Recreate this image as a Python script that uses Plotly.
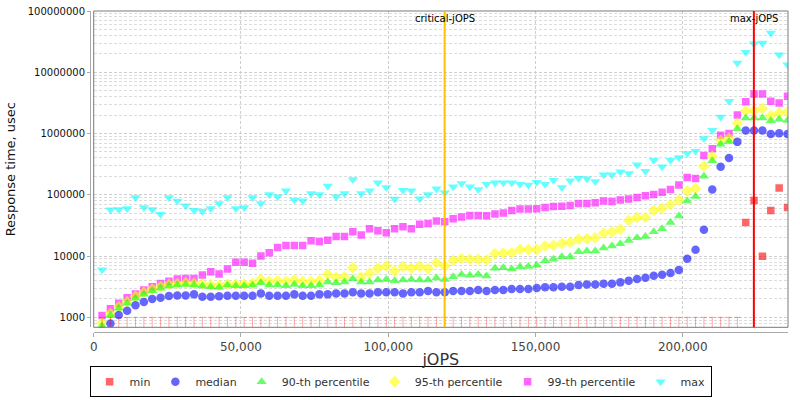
import plotly.graph_objects as go

# jOPS steps (1% of HBIR)
jops = [2838 * i for i in range(1, 84)]

min_rt = [1000] * 77 + [35300, 80900, 9900, 55600, 129000, 62000]

median_rt = [600, 790, 1090, 1280, 1570, 1780, 2000, 2090, 2230, 2280,
             2280, 2370, 2170, 2170, 2200, 2250, 2250, 2250, 2250, 2460,
             2250, 2250, 2250, 2370, 2250, 2250, 2370, 2370, 2460, 2460,
             2560, 2460, 2460, 2560, 2560, 2560, 2460, 2560, 2560, 2690,
             2560, 2560, 2690, 2690, 2690, 2790, 2690, 2790, 2790, 2900,
             2900, 2900, 3010, 3090, 3090, 3160, 3160, 3370, 3450, 3450,
             3540, 3540, 3720, 3960, 4220, 4430, 4780, 4970, 5290, 5900,
             9060, 12700, 26800, 122000, 287000, 400000, 731000, 1120000, 1120000, 1120000,
             980000, 1010000, 980000]

p90_rt = [720, 1080, 1400, 1690, 2040, 2370, 2720, 2970, 3240, 3370,
          3450, 3370, 3240, 3160, 3090, 3370, 3290, 3290, 3370, 3670,
          3370, 3370, 3290, 3450, 3290, 3290, 3370, 3770, 3670, 3770,
          4270, 3770, 3770, 4060, 4160, 3960, 4060, 4160, 4060, 4060,
          4380, 4160, 4600, 5020, 4850, 5020, 4720, 6300, 6450, 6130,
          6700, 6780, 7050, 8400, 8830, 9750, 9750, 11800, 12100, 12100,
          13500, 14600, 15900, 18000, 19900, 20900, 24900, 27900, 35400, 44900,
          78900, 94000, 201000, 358000, 670000, 742000, 1200000, 1800000, 1800000, 1800000,
          1610000, 1710000, 1630000]

p95_rt = [810, 1150, 1500, 1800, 2200, 2550, 2900, 3200, 3450, 3550,
          3650, 3600, 3500, 3400, 3350, 3500, 3500, 3500, 3600, 4170,
          3860, 3960, 3860, 4060, 3860, 3860, 3960, 5020, 4490, 4600,
          6440, 4490, 5210, 6300, 6870, 5690, 6700, 6360, 6870, 6220,
          7780, 6870, 8490, 9060, 8840, 8840, 8600, 10900, 11200, 11300,
          12800, 12800, 12700, 14600, 14900, 16100, 16700, 18900, 19200, 19900,
          23500, 24900, 27500, 38200, 42600, 42600, 55600, 59900, 69500, 81800,
          115000, 127000, 293000, 427000, 769000, 840000, 1460000, 2340000, 2340000, 2560000,
          1950000, 2170000, 2260000]

p99_rt = [1070, 1380, 1690, 2090, 2400, 2790, 3160, 3580, 3870, 4220,
          4290, 4290, 4900, 5560, 5100, 6150, 7900, 7900, 7600, 10000,
          11300, 13800, 14900, 14900, 14900, 17800, 17300, 18200, 20900, 20900,
          24900, 22000, 27900, 25900, 24000, 27900, 30000, 27900, 33200, 34000,
          37200, 36300, 40600, 43300, 46000, 46000, 45500, 48400, 50300, 55600,
          58400, 58400, 59100, 62100, 64500, 65300, 67000, 72100, 72100, 74000,
          78900, 78000, 82000, 85000, 90600, 96400, 101000, 110000, 122000, 144000,
          192000, 185000, 437000, 562000, 940000, 1000000, 2010000, 3310000, 4430000, 4430000,
          3370000, 3160000, 4060000]

max_rt = [6000, 57000, 57500, 60000, 90000, 62000, 57500, 48000, 90000, 79000,
          66000, 56000, 54000, 60000, 72000, 90000, 60000, 62000, 90000, 72000,
          101000, 92700, 116000, 81900, 80000, 105000, 101000, 139000, 92700, 105000,
          178000, 105000, 116000, 157000, 132000, 85000, 119000, 116000, 86000, 101000,
          125000, 108000, 135000, 153000, 135000, 122000, 149000, 157000, 157000, 157000,
          149000, 144000, 161000, 149000, 173000, 132000, 169000, 187000, 182000, 165000,
          212000, 212000, 237000, 223000, 309000, 243000, 367000, 286000, 367000, 407000,
          472000, 515000, 828000, 1130000, 1870000, 3360000, 14100000, 21200000, 29300000, 30000000,
          43800000, 19400000, 13300000]

critical_jops = 119145
max_jops = 224134

x_ticks = [0, 50000, 100000, 150000, 200000]
y_ticks = [1e3, 1e4, 1e5, 1e6, 1e7, 1e8]
y_ticktext = ["1000", "10000", "100000", "1000000", "10000000", "100000000"]

FONT = "DejaVu Sans"

fig = go.Figure()

series = [
    ("max", max_rt, "triangle-down", "rgba(0,255,255,0.6)", 9, 6),
    ("99-th percentile", p99_rt, "square", "rgba(255,0,255,0.6)", 7.5, 5),
    ("95-th percentile", p95_rt, "diamond", "rgba(255,255,0,0.6)", 9, 4),
    ("90-th percentile", p90_rt, "triangle-up", "rgba(0,255,0,0.6)", 9, 3),
    ("median", median_rt, "circle", "rgba(0,0,255,0.6)", 8.5, 2),
]
for name, vals, sym, col, size, rank in series:
    fig.add_trace(go.Scatter(
        x=jops, y=vals, mode="markers", name=name, legendrank=rank,
        marker=dict(symbol=sym, color=col, size=size, line=dict(width=0)),
    ))

# min: values at the 1000 floor drawn as "T" glyphs, others as squares
min_floor = [v if v <= 1000 else None for v in min_rt]
min_pts = [v if v > 1000 else None for v in min_rt]
fig.add_trace(go.Scatter(
    x=jops, y=min_floor, mode="markers", name="min_floor", showlegend=False,
    legendgroup="min",
    marker=dict(size=1, color="rgba(255,0,0,0)"),
    error_y=dict(type="data", symmetric=False,
                 array=[0 if v is not None else None for v in min_floor],
                 arrayminus=[v * 0.999 if v is not None else None for v in min_floor],
                 color="rgba(255,0,0,0.35)", thickness=1, width=3),
))
fig.add_trace(go.Scatter(
    x=jops, y=min_pts, mode="markers", name="min", legendrank=1, legendgroup="min",
    marker=dict(symbol="square", color="rgba(255,0,0,0.6)", size=7.5, line=dict(width=0)),
))

# plot border
fig.add_shape(type="rect", xref="x domain", yref="y domain", x0=0, x1=1, y0=0, y1=1,
              line=dict(color="#7a7a7a", width=1), layer="above")
# vertical markers
fig.add_shape(type="line", xref="x", yref="y domain", x0=critical_jops, x1=critical_jops,
              y0=0, y1=1, line=dict(color="#ffc000", width=2), layer="above")
fig.add_shape(type="line", xref="x", yref="y domain", x0=max_jops, x1=max_jops,
              y0=0, y1=1, line=dict(color="#ff0000", width=2), layer="above")
fig.add_annotation(x=critical_jops, xref="x", y=1, yref="y domain", yanchor="top",
                   text="critical-jOPS", showarrow=False, font=dict(family=FONT, size=10, color="#000"))
fig.add_annotation(x=max_jops, xref="x", y=1, yref="y domain", yanchor="top",
                   text="max-jOPS", showarrow=False, font=dict(family=FONT, size=10, color="#000"))

minor_vals = [m * 10 ** e for e in range(2, 8) for m in range(2, 10)]

fig.update_layout(
    width=800, height=400,
    margin=dict(l=90, r=12, t=11, b=68, autoexpand=False),
    paper_bgcolor="white", plot_bgcolor="white",
    font=dict(family=FONT, color="#333"),
    showlegend=True,
    legend=dict(orientation="h", x=0.445, xanchor="center", y=-0.203, yanchor="bottom",
                bordercolor="#000", borderwidth=1, font=dict(family=FONT, size=11, color="#333"),
                itemwidth=30, tracegroupgap=0),
    xaxis=dict(
        domain=[0.0053, 1], anchor="free", position=0,
        range=[0, 235720], tickvals=x_ticks, tickformat=",d",
        showline=True, linecolor="#aaa", linewidth=1,
        ticks="outside", ticklen=4, tickcolor="#aaa",
        showgrid=True, gridcolor="#cfcfcf", griddash="3px,2px", zeroline=False,
        tickfont=dict(family=FONT, size=12, color="#444"),
        title=dict(text="jOPS", font=dict(family=FONT, size=16, color="#333"), standoff=0),
    ),
    yaxis=dict(
        domain=[0.0146, 1], anchor="free", position=0,
        type="log", range=[2.837, 8.0], tickvals=y_ticks, ticktext=y_ticktext,
        showline=True, linecolor="#aaa", linewidth=1,
        ticks="outside", ticklen=3, tickcolor="#aaa",
        showgrid=True, gridcolor="#cfcfcf", griddash="3px,2px", zeroline=False,
        tickfont=dict(family=FONT, size=10, color="#111"),
        minor=dict(tickvals=minor_vals, showgrid=True, gridcolor="#dcdcdc", griddash="3px,2px", ticks=""),
        title=dict(text="Response time, usec", font=dict(family=FONT, size=13, color="#111"), standoff=8),
    ),
)

fig.write_html("out.html")
